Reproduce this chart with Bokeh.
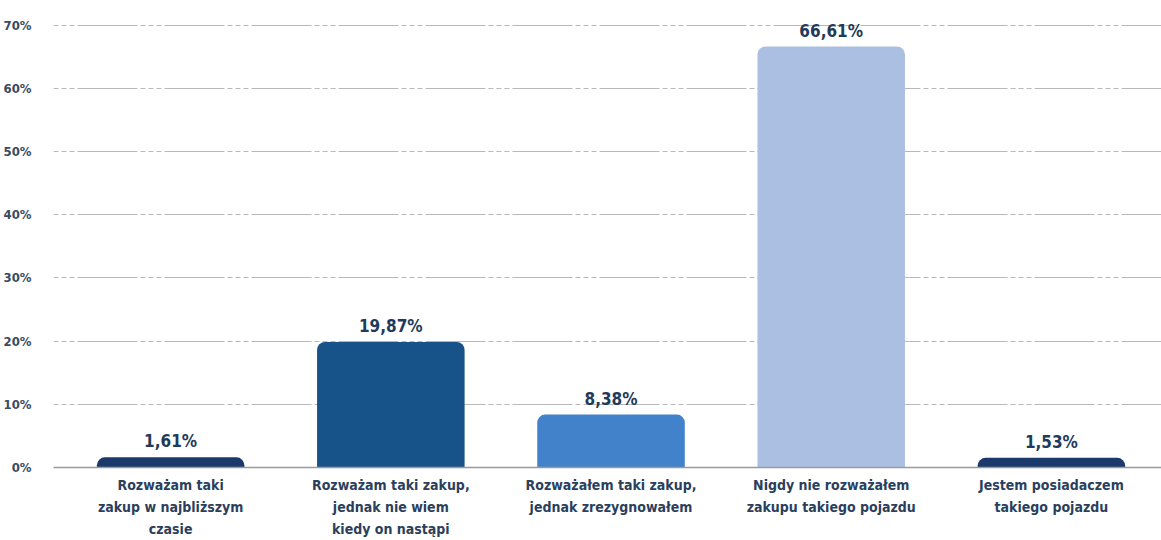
from bokeh.plotting import figure
from bokeh.models import ColumnDataSource, FixedTicker, Range1d
from bokeh.core.properties import value
from bokeh.embed import file_html
from bokeh.resources import INLINE

categories = [
    "Rozważam taki\nzakup w najbliższym\nczasie",
    "Rozważam taki zakup,\njednak nie wiem\nkiedy on nastąpi",
    "Rozważałem taki zakup,\njednak zrezygnowałem",
    "Nigdy nie rozważałem\nzakupu takiego pojazdu",
    "Jestem posiadaczem\ntakiego pojazdu",
]
values = [1.61, 19.87, 8.38, 66.61, 1.53]
value_labels = ["1,61%", "19,87%", "8,38%", "66,61%", "1,53%"]
colors = ["#1b3a6b", "#175289", "#4282ca", "#abbfe2", "#1b3a6b"]
y_ticks = [0, 10, 20, 30, 40, 50, 60, 70]

FONT = "DejaVu Sans Condensed, Roboto, sans-serif"
xs = list(range(len(categories)))

src = ColumnDataSource(dict(x=xs, top=values, color=colors, label=value_labels))

p = figure(width=1161, height=540, output_backend="svg", toolbar_location=None,
           x_range=Range1d(-0.532, 4.5), y_range=Range1d(0, 70.25),
           min_border_left=49, min_border_right=0, min_border_top=23, min_border_bottom=72)
p.outline_line_color = None
p.background_fill_color = "white"

p.vbar(x="x", top="top", width=0.67, color="color", source=src, line_color=None,
       border_radius=(8, 8, 0, 0))
p.text(x="x", y="top", text="label", source=src, text_align="center",
       text_baseline="bottom", y_offset=-6, text_font=value(FONT),
       text_font_style="bold", text_font_size="17px", text_color="#1f3b5c")

p.xgrid.grid_line_color = None
p.ygrid.grid_line_color = "#b8b8b8"
p.ygrid.grid_line_dash = "5 3 5 3 5 3 60 3"
p.ygrid.grid_line_width = 1
p.ygrid.ticker = FixedTicker(ticks=y_ticks[1:])

p.yaxis.ticker = FixedTicker(ticks=y_ticks)
p.yaxis.major_label_overrides = {t: f"{t}%" for t in y_ticks}
p.yaxis.axis_line_color = None
p.yaxis.major_tick_line_color = None
p.yaxis.minor_tick_line_color = None
p.yaxis.major_label_standoff = 16
p.yaxis.major_label_text_font = FONT
p.yaxis.major_label_text_font_style = "bold"
p.yaxis.major_label_text_font_size = "13px"
p.yaxis.major_label_text_color = "#3a4a60"

p.xaxis.ticker = FixedTicker(ticks=xs)
p.xaxis.major_label_overrides = {i: c for i, c in enumerate(categories)}
p.xaxis.axis_line_color = "#9a9a9a"
p.xaxis.axis_line_width = 1.5
p.xaxis.major_tick_line_color = None
p.xaxis.minor_tick_line_color = None
p.xaxis.major_label_standoff = 3
p.xaxis.major_label_text_font = FONT
p.xaxis.major_label_text_font_style = "bold"
p.xaxis.major_label_text_font_size = "14px"
p.xaxis.major_label_text_color = "#2b3f5c"
p.xaxis.major_label_text_line_height = 1.4

open("out.html", "w").write(file_html(p, INLINE))
